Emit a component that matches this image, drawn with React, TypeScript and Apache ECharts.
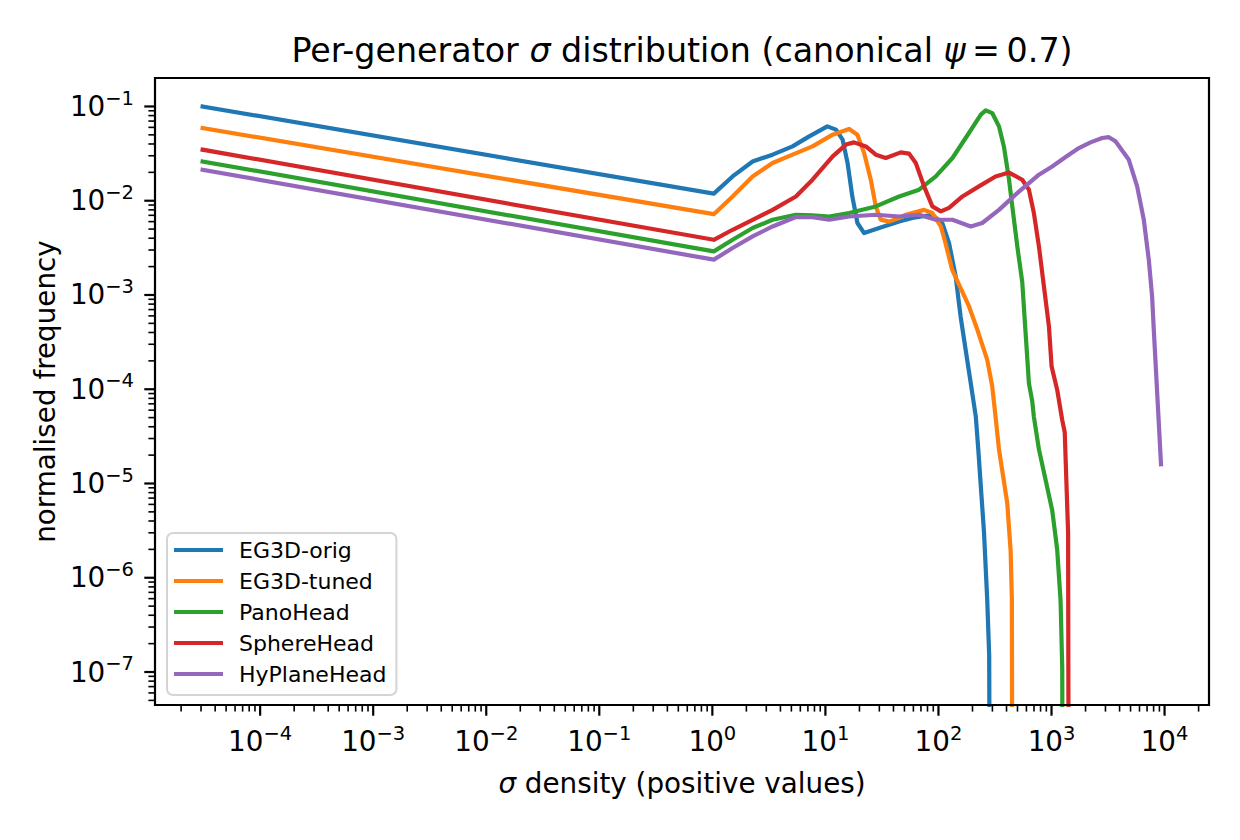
import React, { useEffect, useRef } from "react";
import * as echarts from "echarts";

const FONT = "'DejaVu Sans', sans-serif";

const SERIES_NAMES = ["EG3D-orig", "EG3D-tuned", "PanoHead", "SphereHead", "HyPlaneHead"];
const COLORS = ["#1f77b4", "#ff7f0e", "#2ca02c", "#d62728", "#9467bd"];

// [sigma, normalised frequency]; the trailing tiny value is where a histogram reaches zero
const eg3dOrig: [number, number][] = [
  [3.1e-5, 0.1], [1.03, 0.0119], [1.51, 0.0181], [2.27, 0.0261], [3.41, 0.0308],
  [5.12, 0.0377], [7.19, 0.0482], [10.4, 0.0615], [12.4, 0.0568], [14.2, 0.0444],
  [15.7, 0.0251], [17.3, 0.0111], [19.2, 0.0058], [22.0, 0.00454], [29.9, 0.00513],
  [44.9, 0.00603], [58.8, 0.00655], [88.3, 0.0071], [108, 0.0058], [124, 0.00356],
  [142, 0.00157], [157, 0.00059], [174, 0.000262], [193, 0.000116], [214, 5.1e-5],
  [225, 2.3e-5], [236, 1.0e-5], [253, 3.0e-6], [270, 5.8e-7], [281, 1.5e-7], [287, 1e-10],
];

const eg3dTuned: [number, number][] = [
  [3.1e-5, 0.059], [1.03, 0.0072], [1.51, 0.0111], [2.27, 0.0181], [3.41, 0.0251],
  [5.12, 0.0308], [7.69, 0.0377], [11.6, 0.0502], [16.2, 0.0577], [19.2, 0.05],
  [22.0, 0.032], [25.2, 0.0167], [27.9, 0.0087], [30.9, 0.0063], [36.6, 0.006],
  [44.9, 0.00655], [51.4, 0.0071], [74.6, 0.008], [88.3, 0.0074], [105, 0.00533],
  [115, 0.0036], [132, 0.00186], [157, 0.00118], [186, 0.00076], [221, 0.000427],
  [270, 0.000205], [299, 0.000107], [320, 5.1e-5], [343, 2.3e-5], [406, 6.2e-6],
  [435, 1.9e-6], [446, 6.0e-7], [452, 1e-10],
];

const panoHead: [number, number][] = [
  [3.1e-5, 0.0261], [1.03, 0.0029], [1.51, 0.00385], [2.27, 0.00513], [3.41, 0.00628],
  [5.48, 0.0071], [7.69, 0.00698], [10.8, 0.0068], [16.2, 0.0074], [27.9, 0.0087],
  [44.9, 0.0111], [67.4, 0.0131], [94.7, 0.0181], [133, 0.0284], [186, 0.0523],
  [237, 0.0818], [262, 0.091], [299, 0.0851], [343, 0.0615], [379, 0.0377],
  [421, 0.0167], [450, 0.0087], [498, 0.00328], [551, 0.00137], [590, 0.000394],
  [631, 0.000116], [675, 7.5e-5], [698, 5.1e-5], [774, 2.3e-5], [1014, 5.2e-6],
  [1122, 2.0e-6], [1202, 5.8e-7], [1244, 1.1e-7], [1262, 1e-10],
];

const sphereHead: [number, number][] = [
  [3.1e-5, 0.0348], [1.03, 0.00385], [1.51, 0.00492], [2.27, 0.00628], [3.41, 0.008],
  [5.48, 0.0111], [7.69, 0.0167], [11.6, 0.0295], [15.2, 0.0394], [17.9, 0.0416],
  [22.8, 0.0377], [27.9, 0.0308], [34.2, 0.0284], [46.4, 0.0326], [55.0, 0.0316],
  [63.0, 0.0251], [74.6, 0.0142], [88.3, 0.0087], [105, 0.0077], [124, 0.0084],
  [163, 0.0111], [228, 0.0142], [320, 0.0181], [421, 0.0199], [551, 0.0167],
  [631, 0.0131], [698, 0.0074], [774, 0.00327], [857, 0.00123], [949, 0.000463],
  [1002, 0.000174], [1122, 9.9e-5], [1244, 4.7e-5], [1309, 3.5e-5], [1402, 3.0e-6],
  [1425, 1e-10],
];

const hyPlaneHead: [number, number][] = [
  [3.1e-5, 0.0213], [1.03, 0.00237], [1.51, 0.00315], [2.27, 0.00418], [3.41, 0.00533],
  [5.48, 0.00671], [7.69, 0.0067], [10.8, 0.00628], [16.2, 0.0068], [27.9, 0.0071],
  [44.9, 0.0068], [67.4, 0.0071], [94.7, 0.00628], [133, 0.00628], [193, 0.00533],
  [244, 0.0058], [343, 0.008], [515, 0.0125], [774, 0.0189], [1014, 0.0231],
  [1333, 0.0291], [1746, 0.0362], [2213, 0.0416], [2806, 0.0463], [3214, 0.0472],
  [3681, 0.0427], [4830, 0.0272], [5720, 0.0142], [6550, 0.0063], [7250, 0.00237],
  [7760, 0.00096], [8030, 0.000427], [9300, 1.6e-5],
];

const SERIES_DATA = [eg3dOrig, eg3dTuned, panoHead, sphereHead, hyPlaneHead];

// Labelled decades on each axis
const X_DECADES = [-4, -3, -2, -1, 0, 1, 2, 3, 4];
const Y_DECADES = [-7, -6, -5, -4, -3, -2, -1];

// Axis limits, as exponents of ten
const X_LOG_MIN = -4.93;
const X_LOG_MAX = 4.393;
const Y_LOG_MIN = -7.35;
const Y_LOG_MAX = -0.698;
const X_MIN = Math.pow(10, X_LOG_MIN);
const X_MAX = Math.pow(10, X_LOG_MAX);
const Y_MIN = Math.pow(10, Y_LOG_MIN);
const Y_MAX = Math.pow(10, Y_LOG_MAX);

const GRID = { left: 155, top: 78, width: 1054, height: 627 };
const MAJOR_LEN = 9.7;
const MINOR_LEN = 5.6;
const LINE_WIDTH = 4.2;

// Log ticks (1..9 per decade) lying inside an axis range
function logTicks(lo: number, hi: number): [number, number][] {
  const out: [number, number][] = [];
  for (let d = Math.floor(lo) - 1; d <= Math.ceil(hi); d++) {
    for (let k = 1; k <= 9; k++) {
      const v = k * Math.pow(10, d);
      const e = Math.log10(v);
      if (e > lo + 0.005 && e < hi - 0.005) out.push([v, k === 1 ? 1 : 0]);
    }
  }
  return out;
}

// "10" with a raised exponent, only on whole decades
function powerLabel(decades: number[]) {
  return (v: number) => {
    const e = Math.log10(v);
    const r = Math.round(e);
    if (Math.abs(e - r) > 0.01 || decades.indexOf(r) < 0) return "";
    const exp = (r < 0 ? "\u2212" : "") + Math.abs(r);
    return `{b|10}{s|${exp}}`;
  };
}

const labelRich = {
  b: { fontFamily: FONT, fontSize: 27.8, lineHeight: 36.7, color: "#000" },
  s: { fontFamily: FONT, fontSize: 19.5, verticalAlign: "top", color: "#000" },
};

export default function App() {
  const ref = useRef<HTMLDivElement>(null);

  useEffect(() => {
    if (!ref.current) return;
    const chart = echarts.init(ref.current, undefined, { renderer: "svg" });

    const xTicks = logTicks(X_LOG_MIN, X_LOG_MAX).map(([v, m]) => [v, Y_MIN, m]);
    const yTicks = logTicks(Y_LOG_MIN, Y_LOG_MAX).map(([v, m]) => [X_MIN, v, m]);

    const lineSeries = SERIES_NAMES.map((name, i) => ({
      type: "line",
      name,
      data: SERIES_DATA[i],
      symbol: "none",
      showSymbol: false,
      clip: true,
      z: 3 + i,
      color: COLORS[i],
      lineStyle: { width: LINE_WIDTH, color: COLORS[i], join: "round", cap: "square" },
      itemStyle: { color: COLORS[i] },
      emphasis: { disabled: true },
    }));

    const option: any = {
      animation: false,
      backgroundColor: "#ffffff",
      grid: { ...GRID, show: false, containLabel: false },
      xAxis: {
        type: "log",
        logBase: 10,
        min: X_MIN,
        max: X_MAX,
        splitNumber: 5,
        axisLine: { show: false },
        axisTick: { show: false },
        splitLine: { show: false },
        axisLabel: {
          margin: 18,
          formatter: powerLabel(X_DECADES),
          rich: labelRich,
        },
      },
      yAxis: {
        type: "log",
        logBase: 10,
        min: Y_MIN,
        max: Y_MAX,
        splitNumber: 5,
        axisLine: { show: false },
        axisTick: { show: false },
        splitLine: { show: false },
        axisLabel: {
          margin: 21,
          formatter: powerLabel(Y_DECADES),
          rich: labelRich,
        },
      },
      legend: {
        data: SERIES_NAMES,
        orient: "vertical",
        left: 167,
        top: 533,
        icon: "rect",
        itemWidth: 49,
        itemHeight: 4,
        itemGap: 9,
        padding: [6, 10, 10, 7],
        backgroundColor: "rgba(255,255,255,0.8)",
        borderColor: "#d4d4d4",
        borderWidth: 2,
        borderRadius: 6,
        selectedMode: false,
        itemStyle: { borderWidth: 0 },
        textStyle: { fontFamily: FONT, fontSize: 22, color: "#000", lineHeight: 22, padding: [0, 0, 0, 11] },
      },
      series: [
        ...lineSeries,
        {
          type: "custom",
          name: "x-ticks",
          silent: true,
          clip: false,
          z: 20,
          encode: { x: 0, y: 1 },
          data: xTicks,
          renderItem: (_p: any, api: any) => {
            const pt = api.coord([api.value(0), api.value(1)]);
            const major = api.value(2) === 1;
            return {
              type: "line",
              shape: { x1: pt[0], y1: pt[1], x2: pt[0], y2: pt[1] + (major ? MAJOR_LEN : MINOR_LEN) + 1 },
              style: { stroke: "#000", lineWidth: major ? 2.2 : 1.6 },
            };
          },
        },
        {
          type: "custom",
          name: "y-ticks",
          silent: true,
          clip: false,
          z: 20,
          encode: { x: 0, y: 1 },
          data: yTicks,
          renderItem: (_p: any, api: any) => {
            const pt = api.coord([api.value(0), api.value(1)]);
            const major = api.value(2) === 1;
            return {
              type: "line",
              shape: { x1: pt[0], y1: pt[1], x2: pt[0] - (major ? MAJOR_LEN : MINOR_LEN) - 1, y2: pt[1] },
              style: { stroke: "#000", lineWidth: major ? 2.2 : 1.6 },
            };
          },
        },
      ],
      graphic: [
        {
          type: "rect",
          z: 100,
          silent: true,
          shape: { x: GRID.left, y: GRID.top, width: GRID.width, height: GRID.height },
          style: { fill: "none", stroke: "#000", lineWidth: 2.2 },
        },
        {
          type: "text",
          x: GRID.left + GRID.width / 2,
          y: 50,
          style: {
            text: "Per-generator {i|σ} distribution (canonical {i|ψ}\u2009=\u20090.7)",
            fontFamily: FONT,
            fontSize: 33.3,
            fill: "#000",
            align: "center",
            verticalAlign: "middle",
            rich: { i: { fontFamily: FONT, fontSize: 33.3, fontStyle: "italic", fill: "#000" } },
          },
        },
        {
          type: "text",
          x: GRID.left + GRID.width / 2,
          y: 783.4,
          style: {
            text: "{i|σ} density (positive values)",
            fontFamily: FONT,
            fontSize: 27.8,
            fill: "#000",
            align: "center",
            verticalAlign: "middle",
            rich: { i: { fontFamily: FONT, fontSize: 27.8, fontStyle: "italic", fill: "#000" } },
          },
        },
        {
          type: "text",
          x: 45.4,
          y: GRID.top + GRID.height / 2,
          rotation: Math.PI / 2,
          style: {
            text: "normalised frequency",
            fontFamily: FONT,
            fontSize: 27.8,
            fill: "#000",
            align: "center",
            verticalAlign: "middle",
          },
        },
      ],
    };

    chart.setOption(option);
    return () => chart.dispose();
  }, []);

  return (
    <div
      ref={ref}
      style={{ position: "absolute", left: 0, top: 0, width: 1240, height: 840, background: "#fff" }}
    />
  );
}
